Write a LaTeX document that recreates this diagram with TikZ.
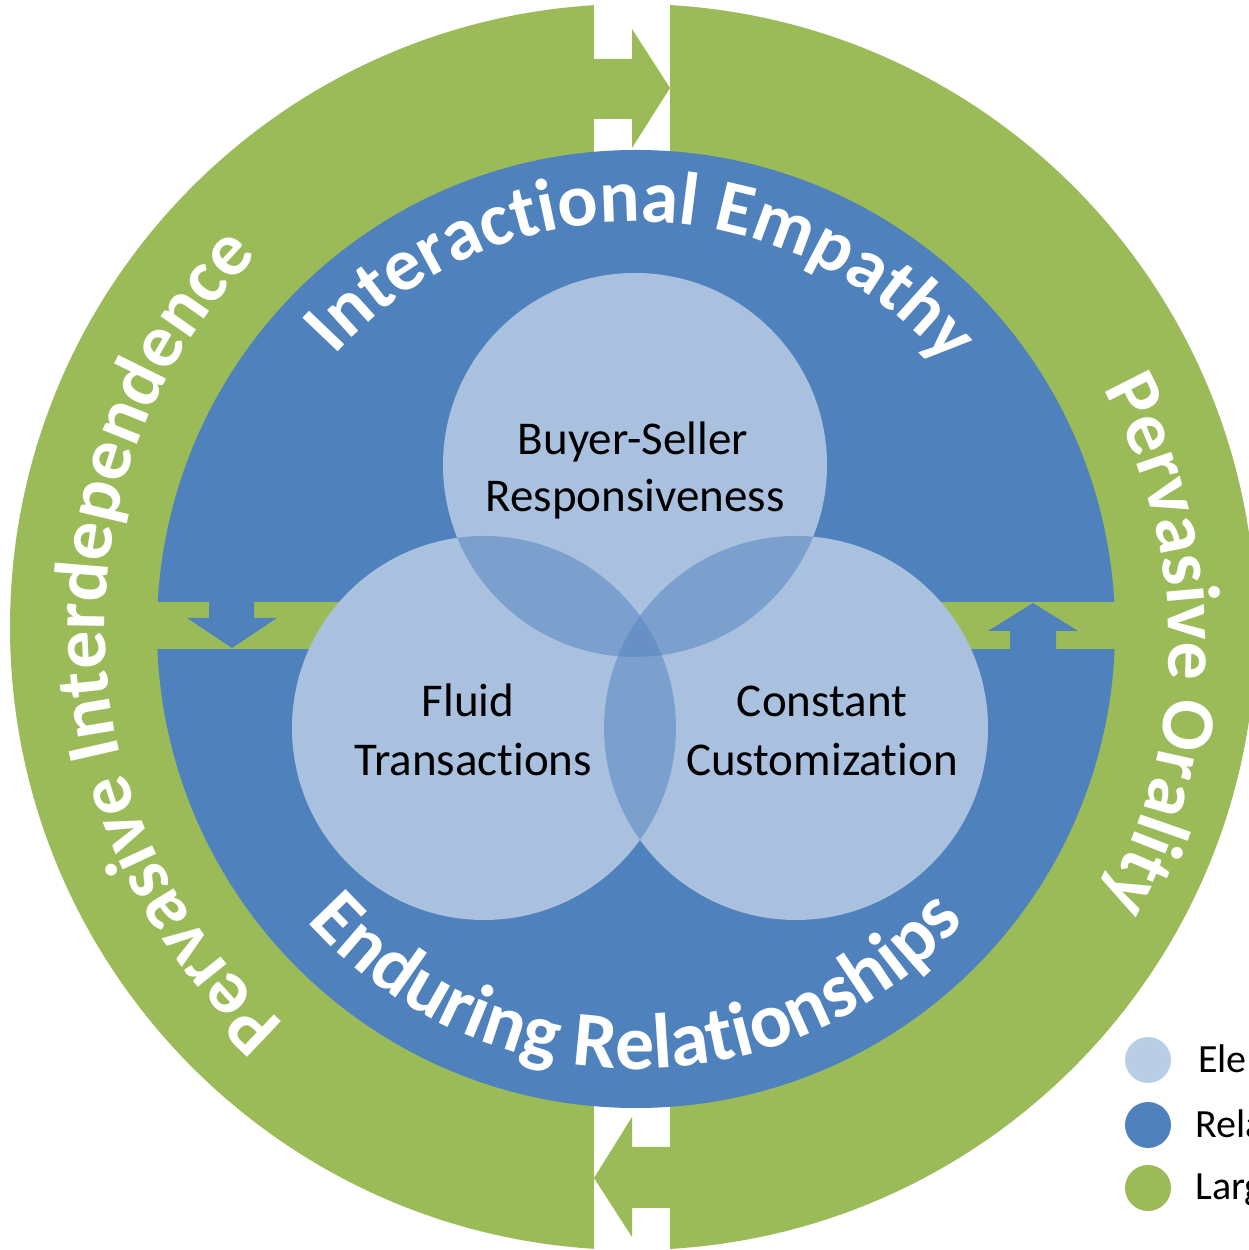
\documentclass[tikz,border=0pt]{standalone}
\usepackage{fontspec}
\setmainfont{Carlito}[Ligatures=NoCommon]
\usetikzlibrary{decorations.text}
\definecolor{ringgreen}{HTML}{9BBB59}
\definecolor{discblue}{HTML}{4F81BD}
\definecolor{lightc}{HTML}{A9C1DF}
\definecolor{midc}{HTML}{7BA0CD}
\definecolor{darkc}{HTML}{6791C6}
\definecolor{legendlight}{HTML}{B9CDE5}
\newcommand\topcurve{\color{white}\bfseries\fontsize{75}{90}\selectfont}
\newcommand\bluecurve{\color{white}\bfseries\fontsize{78}{90}\selectfont}
\newcommand\greencurve{\color{white}\bfseries\fontsize{76}{90}\selectfont}
\tikzset{
  inner/.style={anchor=base, inner sep=0pt, font=\fontsize{47}{56}\selectfont, text=black},
  legtext/.style={anchor=base west, inner sep=0pt, font=\fontsize{40}{48}\selectfont, text=black},
}
\begin{document}
\begin{tikzpicture}[x=1pt,y=1pt]
\useasboundingbox (0,0) rectangle (1249,1250);
% outer green ring (disc)
\fill[ringgreen] (633,623) circle (623pt);
% white gap
\fill[white] (594,-5) rectangle (670,1255);
% green arrows in the gap
\fill[ringgreen] (594,1191) -- (632,1191) -- (632,1221) -- (670,1162) -- (632,1102) -- (632,1131) -- (594,1131) -- cycle;
\fill[ringgreen] (670,103) -- (632,103) -- (632,133) -- (594,72) -- (632,13) -- (632,42) -- (670,42) -- cycle;
% blue disc
\fill[discblue] (636,621) circle (479pt);
% green band
\fill[ringgreen] (140,601) rectangle (1130,648);
% blue arrows in band
\fill[discblue] (209,650) -- (254,650) -- (254,632) -- (277,632) -- (232,602) -- (187,632) -- (209,632) -- cycle;
\fill[discblue] (1010,599) -- (1056,599) -- (1056,619) -- (1078,619) -- (1033,647) -- (988,619) -- (1010,619) -- cycle;
% venn circles
\fill[lightc] (635,785) circle (192pt);
\fill[lightc] (484,522) circle (192pt);
\fill[lightc] (796,522) circle (192pt);
\begin{scope}
  \clip (635,785) circle (192pt);
  \fill[midc] (484,522) circle (192pt);
  \fill[midc] (796,522) circle (192pt);
\end{scope}
\begin{scope}
  \clip (484,522) circle (192pt);
  \fill[midc] (796,522) circle (192pt);
\end{scope}
\begin{scope}
  \clip (635,785) circle (192pt);
  \clip (484,522) circle (192pt);
  \fill[darkc] (796,522) circle (192pt);
\end{scope}
% inner texts
\node[inner] (bs1) at (633,795) {Buyer-Seller};
\node[inner] (bs2) at (635,738) {Responsiveness};
\node[inner] (ft1) at (468,533) {Fluid};
\node[inner] (ft2) at (473,474) {Transactions};
\node[inner] (cc1) at (822,533) {Constant};
\node[inner] (cc2) at (822,474) {Customization};
% curved texts
\path[decorate, decoration={text along path, text align=center, text={|\topcurve|Interactional Empathy}}]
  (636,621) ++(169:407pt) arc[start angle=169, end angle=9, radius=407pt];
\path[decorate, decoration={text along path, text align=center, text={|\bluecurve|Enduring Relationships}}]
  (636,621) ++(190:440pt) arc[start angle=190, end angle=350, radius=440pt];
\path[decorate, decoration={text along path, text align=center, text={|\greencurve|Pervasive Interdependence}}]
  (633,623) ++(267:528pt) arc[start angle=267, end angle=97, radius=528pt];
\path[decorate, decoration={text along path, text align=center, text={|\greencurve|Pervasive Orality}}]
  (640,605) ++(85:529pt) arc[start angle=85, end angle=-85, radius=529pt];
% legend
\fill[legendlight] (1148,190) circle (23pt);
\fill[discblue] (1148,125) circle (23pt);
\fill[ringgreen] (1148,62) circle (23pt);
\node[legtext] (l1) at (1198,177) {Ele};
\node[legtext] (l2) at (1195,112) {Rela};
\node[legtext] (l3) at (1195,50) {Larg};
\end{tikzpicture}
\end{document}
